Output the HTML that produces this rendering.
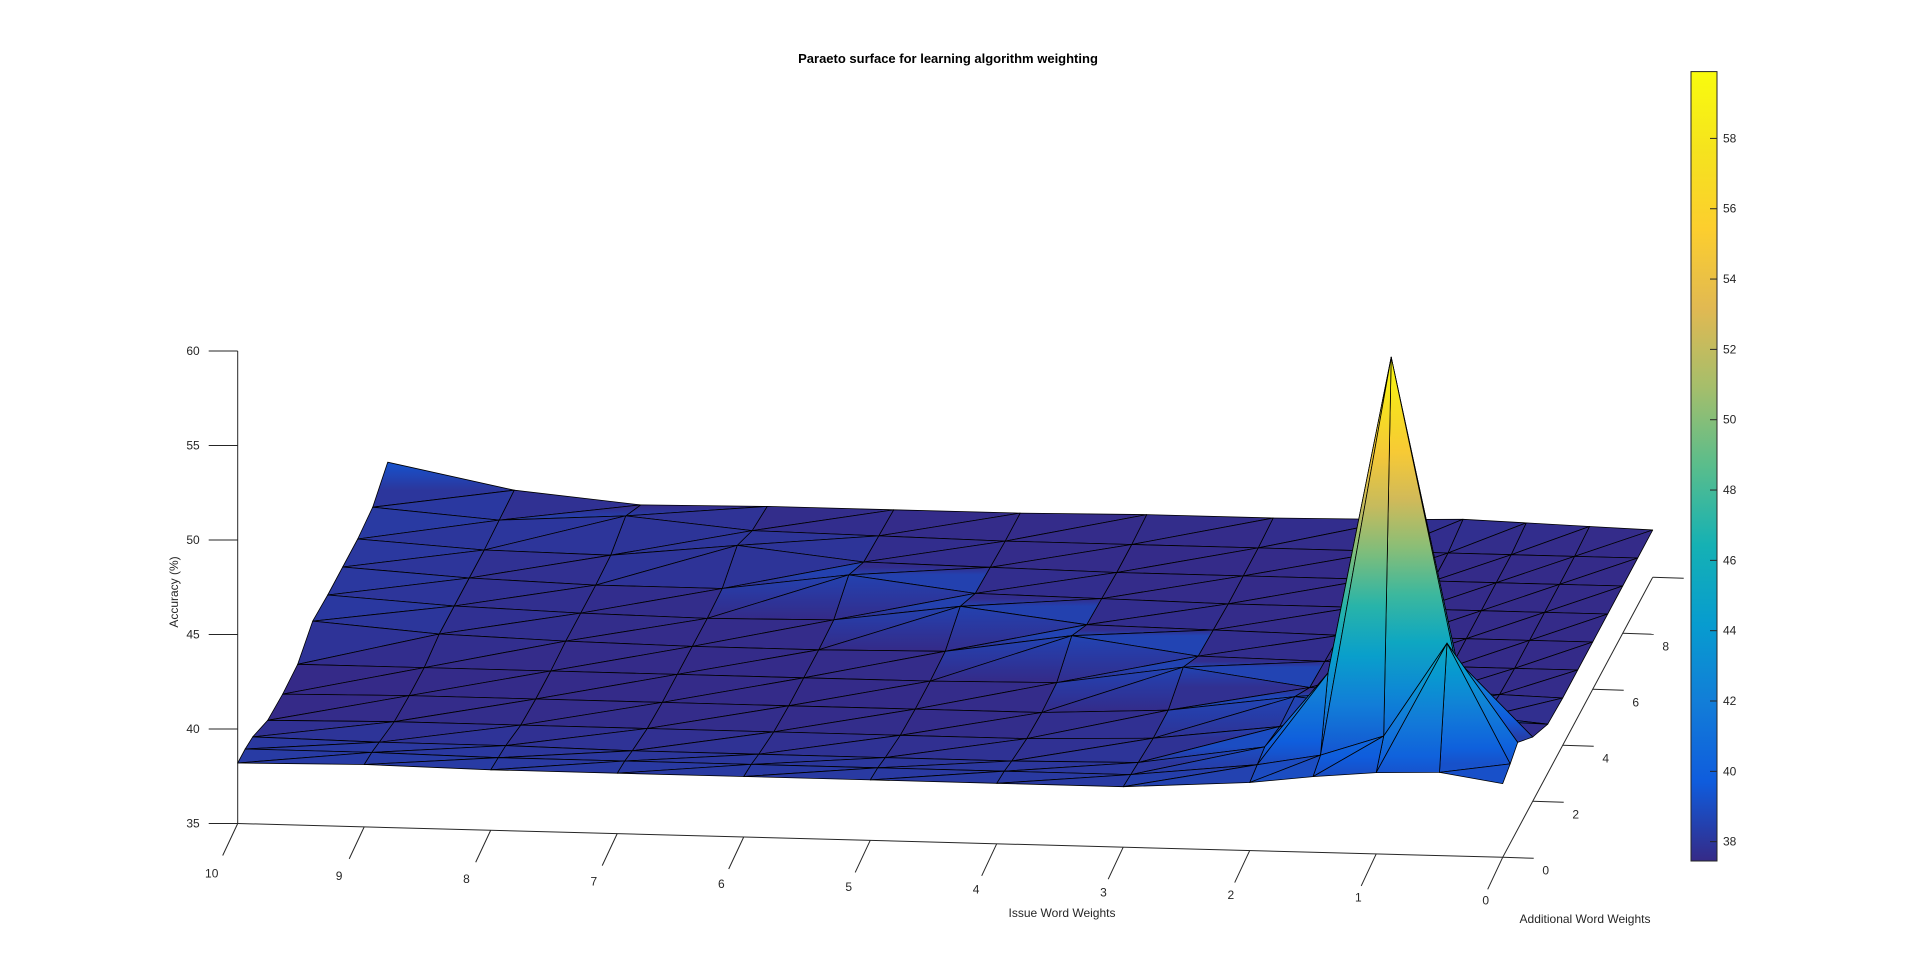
<!DOCTYPE html>
<html>
<head>
<meta charset="utf-8">
<style>
  html,body{margin:0;padding:0;background:#fff;}
  svg{display:block;font-family:"Liberation Sans",Arial,sans-serif;}
  .tk{font-size:12px;fill:#262626;}
</style>
</head>
<body>
<svg id="chart" width="1920" height="963" viewBox="0 0 1920 963">
  <defs id="defs">
    <linearGradient id="parula" x1="0" y1="1" x2="0" y2="0">
      <stop offset="0" stop-color="#352a87"/>
      <stop offset="0.1" stop-color="#0f5cdd"/>
      <stop offset="0.2" stop-color="#127dd8"/>
      <stop offset="0.3" stop-color="#079ccf"/>
      <stop offset="0.4" stop-color="#15b1b4"/>
      <stop offset="0.5" stop-color="#59bd8c"/>
      <stop offset="0.6" stop-color="#a5be6b"/>
      <stop offset="0.7" stop-color="#e1b952"/>
      <stop offset="0.8" stop-color="#fcce2e"/>
      <stop offset="0.9" stop-color="#f5e31e"/>
      <stop offset="1" stop-color="#f9fb0e"/>
    </linearGradient>
  </defs>
  <text x="948" y="63" text-anchor="middle" font-size="13" font-weight="bold" fill="#000">Paraeto surface for learning algorithm weighting</text>
  <g id="axes"></g>
  <g id="surface"></g>
  <g id="colorbar"></g>
  <text x="0" y="0" transform="translate(178,592) rotate(-90)" text-anchor="middle" class="tk" font-size="13">Accuracy (%)</text>
  <text x="1062" y="917" text-anchor="middle" class="tk" font-size="13">Issue Word Weights</text>
  <text x="1585" y="923" text-anchor="middle" class="tk" font-size="13">Additional Word Weights</text>
</svg>
<script>
// ---- data ----
const issueWeights = [0, 0.5, 1, 1.5, 2, 3, 4, 5, 6, 7, 8, 9, 10];
const additionalWeights = [0, 0.5, 1, 2, 3, 4, 5, 6, 7, 8, 9, 10];
const accuracyRow0   = [38.9,39.4,39.3,39.0,38.6,38.2,38.2,38.2,38.2,38.2,38.2,38.3,38.2];
const accuracyRow05  = [39.2,45.5,40.5,39.4,38.8,38.1,38.1,38.1,38.1,38.1,38.1,38.2,38.2];
const accuracyRow1   = [39.6,44.0,59.8,43.0,39.0,38.0,37.9,37.9,37.9,37.9,38.0,38.0,38.1];
const accuracyRow2   = [38.4,39.2,39.6,39.0,38.6,37.8,37.6,37.6,37.6,37.6,37.6,37.6,37.5];
const accuracyRow3   = [37.6,37.9,38.2,38.4,38.7,37.8,37.5,37.5,37.5,37.5,37.5,37.5,37.4];
const accuracyRow4   = [37.5,37.6,37.6,37.6,37.7,38.6,37.6,37.5,37.5,37.5,37.5,37.5,37.5];
const accuracyRow5   = [37.5,37.5,37.5,37.5,37.6,37.7,38.6,37.6,37.5,37.5,37.6,37.8,38.3];
const accuracyRow6   = [37.5,37.5,37.5,37.5,37.5,37.6,37.7,38.5,37.6,37.5,37.6,37.8,38.2];
const accuracyRow7   = [37.5,37.5,37.5,37.5,37.5,37.5,37.6,37.7,38.5,37.6,37.6,37.8,38.2];
const accuracyRow8   = [37.5,37.5,37.5,37.5,37.5,37.5,37.5,37.6,37.7,38.4,37.7,37.8,38.2];
const accuracyRow9   = [37.5,37.5,37.5,37.5,37.5,37.5,37.5,37.5,37.6,37.7,38.3,37.9,38.4];
const accuracyRow10  = [37.5,37.6,37.7,37.8,37.7,37.6,37.6,37.5,37.5,37.5,37.4,38.0,39.3];
const accuracyRows = [accuracyRow0, accuracyRow05, accuracyRow1, accuracyRow2, accuracyRow3, accuracyRow4,
  accuracyRow5, accuracyRow6, accuracyRow7, accuracyRow8, accuracyRow9, accuracyRow10];
const xTickValues = [10,9,8,7,6,5,4,3,2,1,0];
const yTickValues = [0,2,4,6,8];
const zTickValues = [35,40,45,50,55,60];
const cbTickValues = [38,40,42,44,46,48,50,52,54,56,58];
const colorMin = 37.45, colorMax = 59.9;

// ---- projection ----
function px(i, a, z) { return 1502.7 - 126.5 * i + 15 * a; }
function py(i, a, z) { return 857.3 - 3.38 * i - 28 * a - 18.9 * (z - 35); }

const parulaStops = [[53,42,135],[15,92,221],[18,125,216],[7,156,207],[21,177,180],[89,189,140],[165,190,107],[225,185,82],[252,206,46],[245,227,30],[249,251,14]];
function parula(v) {
  let t = (v - colorMin) / (colorMax - colorMin);
  t = Math.max(0, Math.min(1, t)) * 10;
  const k = Math.min(9, Math.floor(t)), f = t - k;
  const a = parulaStops[k], b = parulaStops[k + 1];
  return 'rgb(' + [0,1,2].map(j => Math.round(a[j] + (b[j] - a[j]) * f)).join(',') + ')';
}

const NS = 'http://www.w3.org/2000/svg';
function mk(tag, attrs, parent) {
  const e = document.createElementNS(NS, tag);
  for (const k in attrs) e.setAttribute(k, attrs[k]);
  parent.appendChild(e);
  return e;
}

// ---- axes ----
const axes = document.getElementById('axes');
const zx = px(10, 0);
const zAxis = mk('line', {x1: zx, y1: py(10,0,35), x2: zx, y2: py(10,0,60), stroke: '#262626', 'stroke-width': 1}, axes);


zTickValues.forEach(v => {
  const y = py(10, 0, v);
  const t = mk('line', {x1: zx - 29, y1: y, x2: zx, y2: y, stroke: '#262626', 'stroke-width': 1}, axes);
  
  
  const l = mk('text', {x: zx - 38, y: y + 4, 'text-anchor': 'end', class: 'tk'}, axes);
  l.textContent = v;
  
  
});
const xAxis = mk('line', {x1: px(10,0), y1: py(10,0,35), x2: px(0,0), y2: py(0,0,35), stroke: '#262626', 'stroke-width': 1}, axes);


xTickValues.forEach(v => {
  const x = px(v, 0), y = py(v, 0, 35);
  const t = mk('line', {x1: x, y1: y, x2: x - 15, y2: y + 32, stroke: '#262626', 'stroke-width': 1}, axes);
  
  
  const l = mk('text', {x: x - 26 + (10 - v) * 0.9, y: y + 54 - (10 - v) * 0.7, 'text-anchor': 'middle', class: 'tk'}, axes);
  l.textContent = v;
  
  
});
const yAxis = mk('line', {x1: px(0,0), y1: py(0,0,35), x2: px(0,10), y2: py(0,10,35), stroke: '#262626', 'stroke-width': 1}, axes);


const yEnd = mk('line', {x1: px(0,10), y1: py(0,10,35), x2: px(0,10) + 31, y2: py(0,10,35) + 1, stroke: '#262626', 'stroke-width': 1}, axes);


yTickValues.forEach(v => {
  const x = px(0, v), y = py(0, v, 35);
  const t = mk('line', {x1: x, y1: y, x2: x + 31, y2: y + 1, stroke: '#262626', 'stroke-width': 1}, axes);
  
  
  const l = mk('text', {x: x + 43, y: y + 17, 'text-anchor': 'middle', class: 'tk'}, axes);
  l.textContent = v;
  
  
});

// ---- surface ----
const surf = document.getElementById('surface');
const defs = document.getElementById('defs');
const tris = [];
for (let r = 0; r < additionalWeights.length - 1; r++) {
  for (let c = 0; c < issueWeights.length - 1; c++) {
    const A = [issueWeights[c], additionalWeights[r], accuracyRows[r][c]];
    const B = [issueWeights[c+1], additionalWeights[r], accuracyRows[r][c+1]];
    const C = [issueWeights[c], additionalWeights[r+1], accuracyRows[r+1][c]];
    const D = [issueWeights[c+1], additionalWeights[r+1], accuracyRows[r+1][c+1]];
    tris.push([A, B, C]);
    tris.push([B, D, C]);
  }
}
tris.forEach(t => { t.depth = t.reduce((s, p) => s + p[1] + 0.12 * p[0], 0) / 3; });
tris.sort((p, q) => q.depth - p.depth);
let gid = 0;
tris.forEach(t => {
  const pts = t.map(p => px(p[0], p[1], p[2]).toFixed(1) + ',' + py(p[0], p[1], p[2]).toFixed(1)).join(' ');
  const zs = t.map(p => p[2]);
  const zmin = Math.min(...zs), zmax = Math.max(...zs);
  let fill;
  if (zmax - zmin > 0.8) {
    // vertical gradient approximating interpolated shading
    const lo = t[zs.indexOf(zmin)], hi = t[zs.indexOf(zmax)];
    const y1 = py(lo[0], lo[1], lo[2]), y2 = py(hi[0], hi[1], hi[2]);
    const id = 'g' + (gid++);
    const g = mk('linearGradient', {id: id, gradientUnits: 'userSpaceOnUse', x1: 0, y1: y1, x2: 0, y2: y2}, defs);
    for (let s = 0; s <= 8; s++) {
      mk('stop', {offset: s / 8, 'stop-color': parula(zmin + (zmax - zmin) * s / 8)}, g);
    }
    fill = 'url(#' + id + ')';
  } else {
    fill = parula((zs[0] + zs[1] + zs[2]) / 3);
  }
  const poly = mk('polygon', {points: pts, fill: fill, stroke: '#000', 'stroke-width': 0.8, 'stroke-linejoin': 'round'}, surf);
  
  
});

// ---- colorbar ----
const cb = document.getElementById('colorbar');
const cbX = 1691, cbW = 26, cbTop = 71.6, cbBot = 861;
function cbY(v) { return cbBot - (v - colorMin) / (colorMax - colorMin) * (cbBot - cbTop); }
const bar = mk('rect', {x: cbX, y: cbTop, width: cbW, height: cbBot - cbTop, fill: 'url(#parula)', stroke: '#262626', 'stroke-width': 1}, cb);


cbTickValues.forEach(v => {
  const y = cbY(v);
  const t = mk('line', {x1: cbX + cbW - 7, y1: y, x2: cbX + cbW, y2: y, stroke: '#262626', 'stroke-width': 1}, cb);
  
  
  const l = mk('text', {x: cbX + cbW + 6, y: y + 4, class: 'tk'}, cb);
  l.textContent = v;
  
  
});
</script>
</body>
</html>
